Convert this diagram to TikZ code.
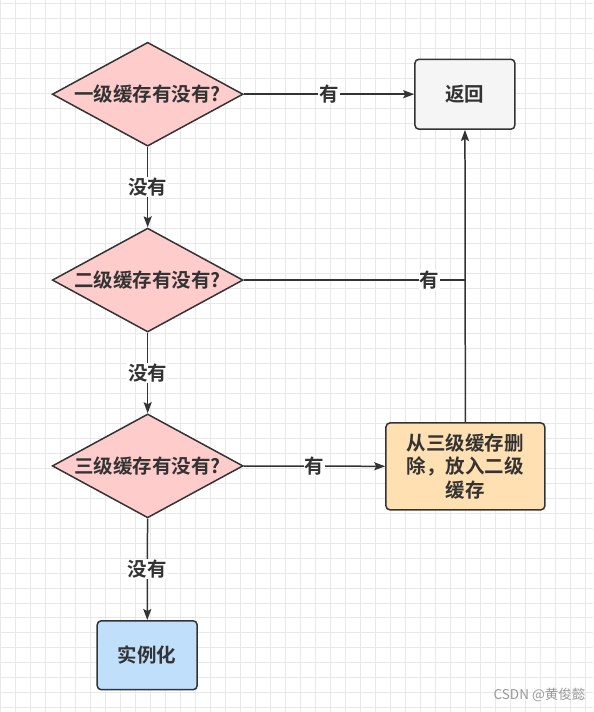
\documentclass[tikz,border=0pt]{standalone}
\usepackage{fontspec}
\setmainfont{Noto Sans CJK SC}[BoldFont={Noto Sans CJK SC Bold}]
\usetikzlibrary{shapes.geometric,arrows.meta,positioning}
\definecolor{linegray}{HTML}{333333}
\definecolor{decfill}{HTML}{FFCCCC}
\definecolor{retfill}{HTML}{F5F5F5}
\definecolor{movefill}{HTML}{FFE0B3}
\definecolor{newfill}{HTML}{BFDFFB}
\begin{document}
\begin{tikzpicture}[x=1pt, y=-1pt, dec/.style={diamond, draw=linegray, line width=1.5pt, fill=decfill, minimum width=191pt, minimum height=104pt, inner sep=0pt, aspect=1.84, text=linegray, font=\bfseries\fontsize{19.5}{22}\selectfont}, proc/.style={draw=linegray, line width=1.5pt, rounded corners=4pt, align=center, text=linegray, font=\bfseries\fontsize{19.5}{23.5}\selectfont}, arr/.style={-{Stealth[length=11pt, width=8pt, inset=2pt]}, line width=1.5pt, linegray}, lbl/.style={fill=white, inner sep=1pt, text=linegray, font=\bfseries\fontsize{19.5}{22}\selectfont}, gridline/.style={line width=0.6pt, black!9}]
% background grid
\fill[white] (0,0) rectangle (593,712);
\foreach \gx in {0,15,...,585} \draw[gridline] (\gx,0) -- (\gx,712);
\foreach \gy in {3,18,...,708} \draw[gridline] (0,\gy) -- (593,\gy);
% decisions and boxes
\node[dec] (d1) at (147.5,94) {一级缓存有没有?}; \node[dec] (d2) at (147.5,280) {二级缓存有没有?}; \node[dec] (d3) at (147.5,466) {三级缓存有没有?};
\node[proc, fill=retfill, minimum width=100pt, minimum height=70pt] (ret) at (465,94) {返回}; \node[proc, fill=movefill, minimum width=159pt, minimum height=87pt] (move) at (465.5,466.5) {从三级缓存删\\除，放入二级\\缓存}; \node[proc, fill=newfill, minimum width=100pt, minimum height=69pt] (new) at (147,655.5) {实例化};
\coordinate (join) at (ret.south |- d2.east);
% connectors
\draw[arr] (d1) -- node[lbl] {有} (ret); \draw[arr] (d1) -- node[lbl] {没有} (d2); \draw[line width=1.5pt, linegray] (d2) -- node[lbl, pos=0.84] {有} (join); \draw[arr] (d2) -- node[lbl] {没有} (d3); \draw[arr] (d3) -- node[lbl] {有} (move); \draw[arr] (d3) -- node[lbl] {没有} (new); \draw[arr] (move) -- (ret);
\node[anchor=east, text=black!40, font=\fontsize{13.5}{16}\selectfont] (mark) at (589,695) {CSDN @黄俊懿};
\end{tikzpicture}
\end{document}
